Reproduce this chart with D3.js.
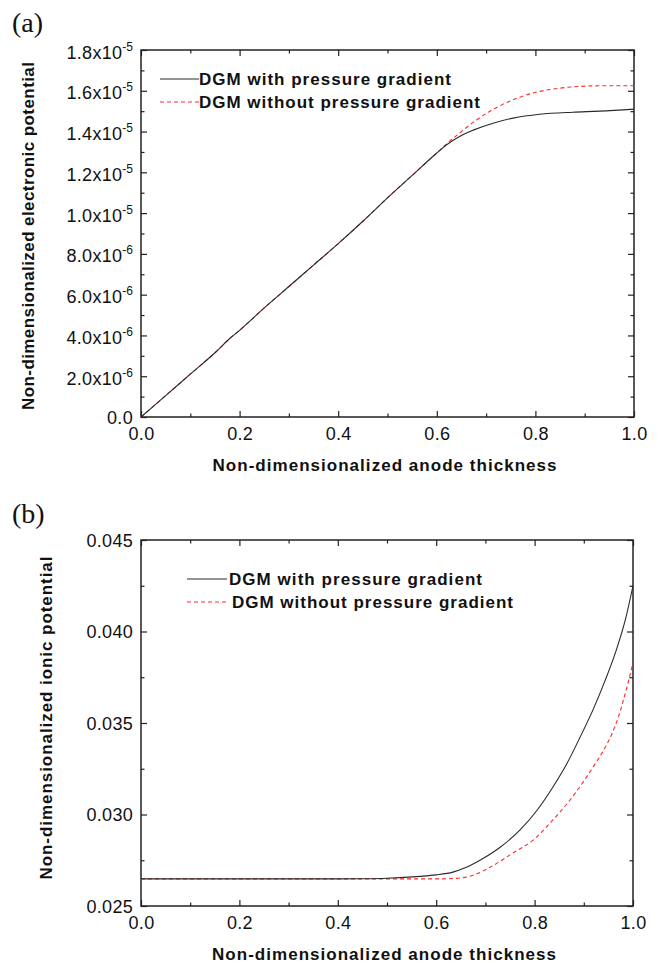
<!DOCTYPE html>
<html>
<head>
<meta charset="utf-8">
<script src="https://cdn.jsdelivr.net/npm/d3@7"></script>
<style>
  body { margin: 0; background: #fff; }
  text { font-family: "Liberation Sans", Arial, sans-serif; }
</style>
</head>
<body>
<div id="chart"></div>
<script>
// ---- data ----
// (a) electronic potential
var xElecWith    = [0, 0.05, 0.1, 0.15, 0.18, 0.2, 0.25, 0.3, 0.35, 0.4, 0.45, 0.5, 0.55, 0.6, 0.62, 0.647, 0.674, 0.714, 0.755, 0.809, 0.876, 0.93, 1.0];
var yElecWith    = [0, 0.105e-5, 0.21e-5, 0.315e-5, 0.385e-5, 0.425e-5, 0.535e-5, 0.64e-5, 0.745e-5, 0.85e-5, 0.96e-5, 1.075e-5, 1.185e-5, 1.295e-5, 1.335e-5, 1.377e-5, 1.407e-5, 1.441e-5, 1.466e-5, 1.485e-5, 1.495e-5, 1.50e-5, 1.51e-5];
var xElecWithout = [0, 0.05, 0.1, 0.15, 0.18, 0.2, 0.25, 0.3, 0.35, 0.4, 0.45, 0.5, 0.55, 0.6, 0.62, 0.645, 0.674, 0.708, 0.748, 0.795, 0.85, 0.905, 0.95, 1.0];
var yElecWithout = [0, 0.105e-5, 0.21e-5, 0.315e-5, 0.385e-5, 0.425e-5, 0.535e-5, 0.64e-5, 0.745e-5, 0.85e-5, 0.96e-5, 1.075e-5, 1.185e-5, 1.295e-5, 1.34e-5, 1.39e-5, 1.446e-5, 1.50e-5, 1.549e-5, 1.589e-5, 1.613e-5, 1.623e-5, 1.625e-5, 1.625e-5];

// (b) ionic potential
var xIonWith    = [0, 0.1, 0.2, 0.3, 0.4, 0.45, 0.5, 0.567, 0.6, 0.634, 0.66, 0.689, 0.73, 0.77, 0.805, 0.837, 0.866, 0.892, 0.92, 0.943, 0.965, 0.985, 1.0];
var yIonWith    = [0.02648, 0.02648, 0.02648, 0.02648, 0.02648, 0.02649, 0.02652, 0.02662, 0.0267, 0.02685, 0.0271, 0.0275, 0.02821, 0.02914, 0.03023, 0.03149, 0.0328, 0.0342, 0.0358, 0.0373, 0.0389, 0.0407, 0.0425];
var xIonWithout = [0, 0.1, 0.2, 0.3, 0.4, 0.5, 0.6, 0.634, 0.675, 0.715, 0.756, 0.797, 0.837, 0.878, 0.919, 0.94, 0.957, 0.97, 0.98, 0.99, 1.0];
var yIonWithout = [0.02648, 0.02648, 0.02648, 0.02648, 0.02648, 0.02648, 0.02648, 0.0265, 0.02668, 0.0272, 0.0279, 0.0286, 0.0297, 0.031, 0.0326, 0.0335, 0.0344, 0.0353, 0.0362, 0.0372, 0.0383];

// ticks
var xTicks = [0, 0.2, 0.4, 0.6, 0.8, 1.0];
var xTickLabels = ["0.0", "0.2", "0.4", "0.6", "0.8", "1.0"];
var xMinor = [0.1, 0.3, 0.5, 0.7, 0.9];

var yTicksA = [0, 2e-6, 4e-6, 6e-6, 8e-6, 1e-5, 1.2e-5, 1.4e-5, 1.6e-5, 1.8e-5];
var yTickMantA = ["0.0", "2.0x10", "4.0x10", "6.0x10", "8.0x10", "1.0x10", "1.2x10", "1.4x10", "1.6x10", "1.8x10"];
var yTickExpA  = ["", "-6", "-6", "-6", "-6", "-5", "-5", "-5", "-5", "-5"];
var yMinorA = [1e-6, 3e-6, 5e-6, 7e-6, 9e-6, 1.1e-5, 1.3e-5, 1.5e-5, 1.7e-5];

var yTicksB = [0.025, 0.030, 0.035, 0.040, 0.045];
var yTickLabelsB = ["0.025", "0.030", "0.035", "0.040", "0.045"];
var yMinorB = [0.0275, 0.0325, 0.0375, 0.0425];

var seriesNames = ["DGM with pressure gradient", "DGM without pressure gradient"];

var sansFont = "'Liberation Sans', Arial, sans-serif";

var svg = d3.select("#chart").append("svg")
  .attr("width", 662)
  .attr("height", 965);

function drawPanel(p) {
  var x = d3.scaleLinear().domain([0, 1]).range([p.left, p.right]);
  var y = d3.scaleLinear().domain(p.yDomain).range([p.bottom, p.top]);
  var g = svg.append("g");

  // bottom axis with labels
  var bx = g.append("g")
    .attr("transform", "translate(0," + p.bottom + ")")
    .call(d3.axisBottom(x).tickValues(xTicks).tickSizeInner(-6).tickSizeOuter(0)
      .tickFormat(function (d, i) { return xTickLabels[i]; }));
  bx.selectAll(".tick text")
    .attr("y", 23).attr("dy", null)
    .style("font-family", sansFont)
    .attr("font-size", 18).attr("letter-spacing", 0.3)
    .attr("fill", "#111");
  g.append("g")
    .attr("transform", "translate(0," + p.bottom + ")")
    .call(d3.axisBottom(x).tickValues(xMinor).tickSizeInner(-3.5).tickSizeOuter(0).tickFormat(""));
  // top axis, ticks only
  g.append("g")
    .attr("transform", "translate(0," + p.top + ")")
    .call(d3.axisTop(x).tickValues(xTicks).tickSizeInner(-6).tickSizeOuter(0).tickFormat(""));
  g.append("g")
    .attr("transform", "translate(0," + p.top + ")")
    .call(d3.axisTop(x).tickValues(xMinor).tickSizeInner(-3.5).tickSizeOuter(0).tickFormat(""));

  // left axis with labels
  var ly = g.append("g")
    .attr("transform", "translate(" + p.left + ",0)")
    .call(d3.axisLeft(y).tickValues(p.yTicks).tickSizeInner(-6).tickSizeOuter(0).tickFormat(""));
  ly.selectAll(".tick text").each(function (d, i) {
    var t = d3.select(this)
      .attr("x", -8).attr("dy", null)
      .attr("y", p.yExp[i] ? 8 : 6)
      .style("font-family", sansFont)
      .attr("font-size", 18).attr("letter-spacing", 0.3)
      .attr("fill", "#111");
    t.append("tspan").text(p.yMant[i]);
    if (p.yExp[i]) {
      t.append("tspan").attr("dy", -8).attr("font-size", 12).attr("letter-spacing", 0).text(p.yExp[i]);
    }
  });
  g.append("g")
    .attr("transform", "translate(" + p.left + ",0)")
    .call(d3.axisLeft(y).tickValues(p.yMinor).tickSizeInner(-3.5).tickSizeOuter(0).tickFormat(""));
  // right axis, ticks only
  g.append("g")
    .attr("transform", "translate(" + p.right + ",0)")
    .call(d3.axisRight(y).tickValues(p.yTicks).tickSizeInner(-6).tickSizeOuter(0).tickFormat(""));
  g.append("g")
    .attr("transform", "translate(" + p.right + ",0)")
    .call(d3.axisRight(y).tickValues(p.yMinor).tickSizeInner(-3.5).tickSizeOuter(0).tickFormat(""));

  g.selectAll(".domain").remove();
  g.selectAll(".tick line").attr("stroke", "#222").attr("stroke-width", 1.2);

  // frame
  g.append("rect")
    .attr("x", p.left).attr("y", p.top)
    .attr("width", p.right - p.left).attr("height", p.bottom - p.top)
    .attr("fill", "none").attr("stroke", "#222").attr("stroke-width", 1.5);

  // curves
  var line = d3.line()
    .x(function (d) { return x(d[0]); })
    .y(function (d) { return y(d[1]); })
    .curve(d3.curveMonotoneX);

  g.append("path")
    .datum(d3.zip(p.xWithout, p.yWithout))
    .attr("d", line)
    .attr("fill", "none").attr("stroke", "#ff2a2a").attr("stroke-width", 1.1)
    .attr("stroke-dasharray", "4,3");
  g.append("path")
    .datum(d3.zip(p.xWith, p.yWith))
    .attr("d", line)
    .attr("fill", "none").attr("stroke", "#2a2a2a").attr("stroke-width", 1.1);

  // legend
  var lg = p.legend;
  g.append("line")
    .attr("x1", lg.x1).attr("x2", lg.x2).attr("y1", lg.y[0]).attr("y2", lg.y[0])
    .attr("stroke", "#2a2a2a").attr("stroke-width", 1.1);
  g.append("line")
    .attr("x1", lg.x1).attr("x2", lg.x2).attr("y1", lg.y[1]).attr("y2", lg.y[1])
    .attr("stroke", "#ff2a2a").attr("stroke-width", 1.1).attr("stroke-dasharray", "4,3");
  seriesNames.forEach(function (name, i) {
    g.append("text")
      .attr("x", lg.tx[i]).attr("y", lg.y[i] + 6)
      .attr("font-size", 17).attr("font-weight", "bold").attr("fill", "#111")
      .attr("textLength", lg.tw[i]).attr("lengthAdjust", "spacing")
      .text(name);
  });

  // axis titles
  g.append("text")
    .attr("x", (p.left + p.right) / 2 - 3).attr("y", p.bottom + 54)
    .attr("text-anchor", "middle")
    .attr("font-size", 17).attr("font-weight", "bold").attr("fill", "#111")
    .attr("textLength", 344).attr("lengthAdjust", "spacing")
    .text("Non-dimensionalized anode thickness");
  g.append("text")
    .attr("transform", "translate(" + p.yTitleX + "," + p.yTitleY + ") rotate(-90)")
    .attr("text-anchor", "middle")
    .attr("font-size", 17).attr("font-weight", "bold").attr("fill", "#111")
    .attr("textLength", p.yTitleLen).attr("lengthAdjust", "spacing")
    .text(p.yTitle);

  // panel tag (serif, as in the figure)
  g.append("text")
    .attr("x", 12).attr("y", p.tagY)
    .style("font-family", "'Liberation Serif', 'Times New Roman', serif")
    .attr("font-size", 28).attr("fill", "#111")
    .text(p.tag);
}

drawPanel({
  left: 141, right: 634, top: 50, bottom: 417,
  yDomain: [0, 1.8e-5],
  yTicks: yTicksA, yMant: yTickMantA, yExp: yTickExpA, yMinor: yMinorA,
  xWith: xElecWith, yWith: yElecWith, xWithout: xElecWithout, yWithout: yElecWithout,
  legend: { x1: 160, x2: 199, y: [79, 102], tx: [199, 199], tw: [252, 281] },
  yTitle: "Non-dimensionalized electronic potential", yTitleX: 34, yTitleY: 236, yTitleLen: 348,
  tag: "(a)", tagY: 32
});

drawPanel({
  left: 141, right: 633, top: 540, bottom: 906,
  yDomain: [0.025, 0.045],
  yTicks: yTicksB, yMant: yTickLabelsB, yExp: ["", "", "", "", ""], yMinor: yMinorB,
  xWith: xIonWith, yWith: yIonWith, xWithout: xIonWithout, yWithout: yIonWithout,
  legend: { x1: 187, x2: 227, y: [579, 602], tx: [229, 232], tw: [253, 281] },
  yTitle: "Non-dimensionalized ionic potential", yTitleX: 52, yTitleY: 718, yTitleLen: 323,
  tag: "(b)", tagY: 523
});
</script>
</body>
</html>
